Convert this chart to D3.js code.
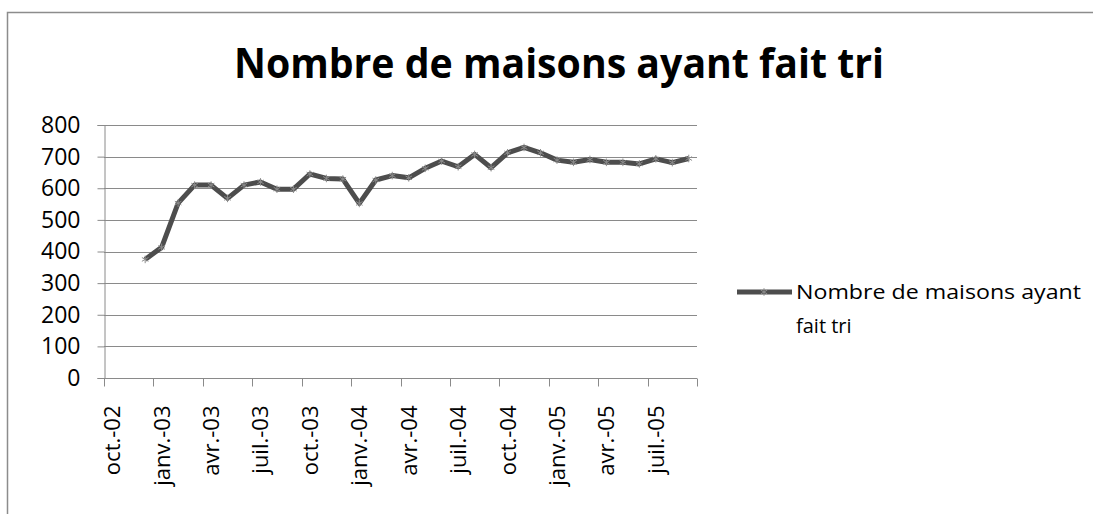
<!DOCTYPE html>
<html>
<head>
<meta charset="utf-8">
<script src="https://cdn.jsdelivr.net/npm/d3@7"></script>
<style>
  body { margin: 0; background: #fff; }
  text { font-family: "Open Sans", "Noto Sans", sans-serif; fill: #000; }
</style>
</head>
<body>
<div id="chart"></div>
<script>
// months (first of month), dec 2002 -> sep 2005
const months = d3.timeMonths(new Date(2002, 11, 1), new Date(2005, 9, 1));
const values = [375, 413, 553, 610, 610, 568, 610, 620, 597, 597, 645, 631,
                629, 552, 626, 640, 633, 663, 686, 668, 707, 665, 712, 729,
                712, 689, 682, 691, 682, 682, 677, 693, 681, 694];
const yTicks = [0, 100, 200, 300, 400, 500, 600, 700, 800];
const frMonths = ["janv.", "févr.", "mars", "avr.", "mai", "juin", "juil.", "août", "sept.", "oct.", "nov.", "déc."];
const title = "Nombre de maisons ayant fait tri";
const seriesName = ["Nombre de maisons ayant", "fait tri"];

const width = 1093, height = 514;
const svg = d3.select("#chart").append("svg")
    .attr("width", width).attr("height", height);

// outer frame
svg.append("rect")
    .attr("x", 7.5).attr("y", 12.5)
    .attr("width", 1100).attr("height", 520)
    .attr("fill", "none").attr("stroke", "#8c8c8c").attr("stroke-width", 1.5);

svg.append("text")
    .attr("x", 559).attr("y", 78)
    .attr("text-anchor", "middle")
    .attr("font-size", 41).attr("font-weight", "bold")
    .attr("textLength", 650).attr("lengthAdjust", "spacingAndGlyphs")
    .text(title);

const plotLeft = 104, plotRight = 697, plotTop = 125, plotBottom = 378;
const start = new Date(2002, 9, 1), end = new Date(2005, 9, 1);
const slots = d3.timeMonths(start, end);

const x = d3.scaleBand().domain(slots.map(d => +d)).range([plotLeft, plotRight]).padding(0);
const y = d3.scaleLinear().domain([0, 800]).range([plotBottom, plotTop]);
const tickX = d => x(+d) !== undefined ? x(+d) : plotRight;

// gridlines
svg.append("g").selectAll("line").data(yTicks.filter(d => d > 0)).join("line")
    .attr("x1", plotLeft).attr("x2", plotRight)
    .attr("y1", d => Math.round(y(d)) + 0.5).attr("y2", d => Math.round(y(d)) + 0.5)
    .attr("stroke", "#8a8a8a").attr("stroke-width", 1);

// y axis
const yAxis = svg.append("g").attr("transform", `translate(${plotLeft + 0.5},0)`)
    .call(d3.axisLeft(y).tickValues(yTicks).tickSize(7).tickPadding(17));
yAxis.select(".domain").attr("stroke", "#8a8a8a");
yAxis.selectAll(".tick line").attr("stroke", "#8a8a8a");
yAxis.selectAll(".tick text").attr("font-size", 23).attr("font-family", "Open Sans, sans-serif").attr("fill", "#000");

// x axis
const quarterSlots = slots.filter((d, i) => i % 3 === 0);
const xg = svg.append("g").attr("transform", `translate(0,${plotBottom + 0.5})`);
xg.append("line").attr("x1", plotLeft).attr("x2", plotRight).attr("stroke", "#8a8a8a");
xg.selectAll("line.t").data(quarterSlots.concat([end])).join("line")
    .attr("class", "t")
    .attr("x1", d => Math.round(tickX(d)) + 0.5)
    .attr("x2", d => Math.round(tickX(d)) + 0.5)
    .attr("y1", 0).attr("y2", 8)
    .attr("stroke", "#8a8a8a");
xg.selectAll("text").data(quarterSlots).join("text")
    .attr("transform", d => `translate(${x(+d) + x.bandwidth() / 2 + 8},27) rotate(-90)`)
    .attr("text-anchor", "end")
    .attr("font-size", 22)
    .text(d => frMonths[d.getMonth()] + "-" + String(d.getFullYear()).slice(2));

// series
const pts = months.map((m, i) => ({ x: x(+m) + x.bandwidth() / 2, y: y(values[i]) }));
svg.append("path")
    .datum(pts)
    .attr("fill", "none").attr("stroke", "#4d4d4d").attr("stroke-width", 5)
    .attr("stroke-linejoin", "round")
    .attr("d", d3.line().x(d => d.x).y(d => d.y));

const star = d3.symbol().type(d3.symbolAsterisk).size(40);
svg.append("g").selectAll("path").data(pts).join("path")
    .attr("transform", d => `translate(${d.x},${d.y})`)
    .attr("d", star)
    .attr("stroke", "#8c8c8c").attr("stroke-width", 1).attr("fill", "none");

// legend
const lg = svg.append("g");
lg.append("line").attr("x1", 737).attr("x2", 792).attr("y1", 292).attr("y2", 292)
    .attr("stroke", "#4d4d4d").attr("stroke-width", 5);
lg.append("path").attr("transform", "translate(764,292)").attr("d", star)
    .attr("stroke", "#8c8c8c").attr("fill", "none");
lg.selectAll("text").data(seriesName).join("text")
    .attr("x", 796).attr("y", (d, i) => 299 + i * 34)
    .attr("font-size", 20)
    .attr("textLength", (d, i) => i === 0 ? 285 : null)
    .attr("lengthAdjust", "spacingAndGlyphs")
    .text(d => d);
</script>
</body>
</html>
